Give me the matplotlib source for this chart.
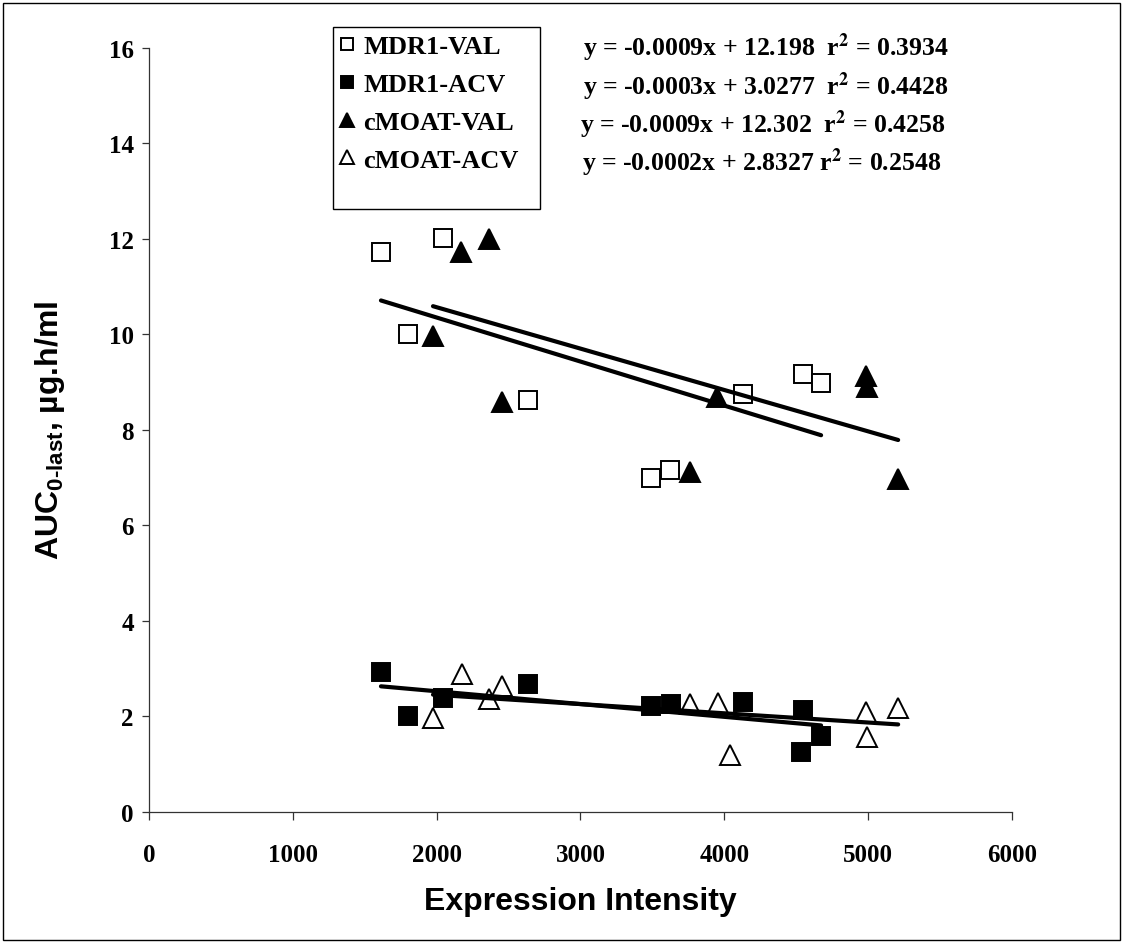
import numpy as np
import matplotlib
matplotlib.use("Agg")
import matplotlib.pyplot as plt
from matplotlib.patches import Rectangle

# values
mdr1_val_x = [1612, 1800, 2044, 2636, 3491, 3623, 4131, 4549, 4674]
mdr1_val_y = [11.73, 10.01, 12.02, 8.63, 6.99, 7.16, 8.75, 9.17, 8.97]
mdr1_acv_x = [1612, 1800, 2044, 2636, 3491, 3630, 4131, 4549, 4535, 4674]
mdr1_acv_y = [2.92, 2.00, 2.38, 2.67, 2.21, 2.25, 2.30, 2.13, 1.25, 1.58]
cmoat_val_x = [1974, 2169, 2364, 2455, 3763, 3951, 4988, 4995, 5210]
cmoat_val_y = [9.97, 11.73, 12.00, 8.58, 7.12, 8.69, 9.13, 8.90, 6.97]
cmoat_acv_x = [1974, 2176, 2364, 2455, 3763, 3958, 4041, 4988, 4995, 5210]
cmoat_acv_y = [1.96, 2.88, 2.36, 2.63, 2.25, 2.27, 1.19, 2.09, 1.57, 2.17]

series_labels = ["MDR1-VAL", "MDR1-ACV", "cMOAT-VAL", "cMOAT-ACV"]
equations = [
    "y = -0.0009x + 12.198  r$^{\\mathbf{2}}$ = 0.3934",
    "y = -0.0003x + 3.0277  r$^{\\mathbf{2}}$ = 0.4428",
    "y = -0.0009x + 12.302  r$^{\\mathbf{2}}$ = 0.4258",
    "y = -0.0002x + 2.8327 r$^{\\mathbf{2}}$ = 0.2548",
]
x_ticks = [0, 1000, 2000, 3000, 4000, 5000, 6000]
y_ticks = [0, 2, 4, 6, 8, 10, 12, 14, 16]

serif = "Liberation Serif"
sans = "Liberation Sans"
plt.rcParams["mathtext.fontset"] = "custom"
plt.rcParams["mathtext.rm"] = "Liberation Sans:bold"
plt.rcParams["mathtext.bf"] = "Liberation Sans:bold"

W, H = 1123, 945
fig = plt.figure(figsize=(W / 100, H / 100), dpi=100)
ax = fig.add_axes([0.1329, 0.1402, 0.9009 - 0.1329, 0.9481 - 0.1402])

# outer frame of the whole chart
fig.patches.append(Rectangle((0.003, 0.004), 0.994, 0.992, transform=fig.transFigure,
                             fill=False, edgecolor="black", linewidth=1.0))

styles = [
    dict(marker="s", mfc="white", ms=13),
    dict(marker="s", mfc="black", ms=13),
    dict(marker="^", mfc="black", ms=15),
    dict(marker="^", mfc="white", ms=15),
]
data = [(mdr1_val_x, mdr1_val_y), (mdr1_acv_x, mdr1_acv_y),
        (cmoat_val_x, cmoat_val_y), (cmoat_acv_x, cmoat_acv_y)]

handles = []
for (xs, ys), st, lab in zip(data, styles, series_labels):
    h, = ax.plot(xs, ys, linestyle="none", marker=st["marker"], markersize=st["ms"],
                 markerfacecolor=st["mfc"], markeredgecolor="black",
                 markeredgewidth=1.4, label=lab, zorder=3)
    handles.append(h)
    # linear trend line over the data range
    xs = np.array(xs, dtype=float)
    k, b = np.polyfit(xs, ys, 1)
    xx = np.array([xs.min(), xs.max()])
    ax.plot(xx, k * xx + b, color="black", linewidth=3.0, solid_capstyle="round", zorder=4)

ax.set_xlim(0, 6000)
ax.set_ylim(0, 16)
ax.set_xticks(x_ticks)
ax.set_yticks(y_ticks)
for s in ["top", "right"]:
    ax.spines[s].set_visible(False)
for s in ["left", "bottom"]:
    ax.spines[s].set_color("#333333")
    ax.spines[s].set_linewidth(0.9)
ax.tick_params(axis="x", direction="out", length=6, width=0.9, color="#333333", pad=17)
ax.tick_params(axis="y", direction="out", length=5, width=0.9, color="#333333", pad=6)
for lab in ax.get_xticklabels() + ax.get_yticklabels():
    lab.set_fontfamily(serif)
    lab.set_fontweight("bold")
    lab.set_fontsize(18)

ax.set_xlabel("Expression Intensity", fontfamily=sans, fontweight="bold", fontsize=23,
              labelpad=14)
ax.set_ylabel("AUC$_{\\mathrm{0\u2010last}}$, \u00b5g.h/ml", fontfamily=sans,
              fontweight="bold", fontsize=23, math_fontfamily="custom", labelpad=30)

# legend box drawn as in the original (taller than its entries)
fig.patches.append(Rectangle((333 / W, 1 - 210 / H), (540 - 333) / W, (210 - 28) / H,
                             transform=fig.transFigure, fill=False,
                             edgecolor="black", linewidth=1.0, zorder=5))
leg = ax.legend(handles=handles, loc="upper left", bbox_to_anchor=(338 / W, 1 - 36 / H),
                bbox_transform=fig.transFigure, borderaxespad=0, frameon=False,
                markerscale=0.65, handlelength=0.7, handletextpad=0.25,
                labelspacing=0.54, borderpad=0,
                prop={"family": serif, "weight": "bold", "size": 19})

eq_x = [583, 583, 580, 582]
eq_y = [48, 87, 125, 163]
for txt, xx, yy in zip(equations, eq_x, eq_y):
    fig.text(xx / W, 1 - yy / H, txt, fontfamily=serif, fontweight="bold",
             fontsize=18.5, math_fontfamily="stix", ha="left", va="center")

fig.savefig("out.png", dpi=100)
